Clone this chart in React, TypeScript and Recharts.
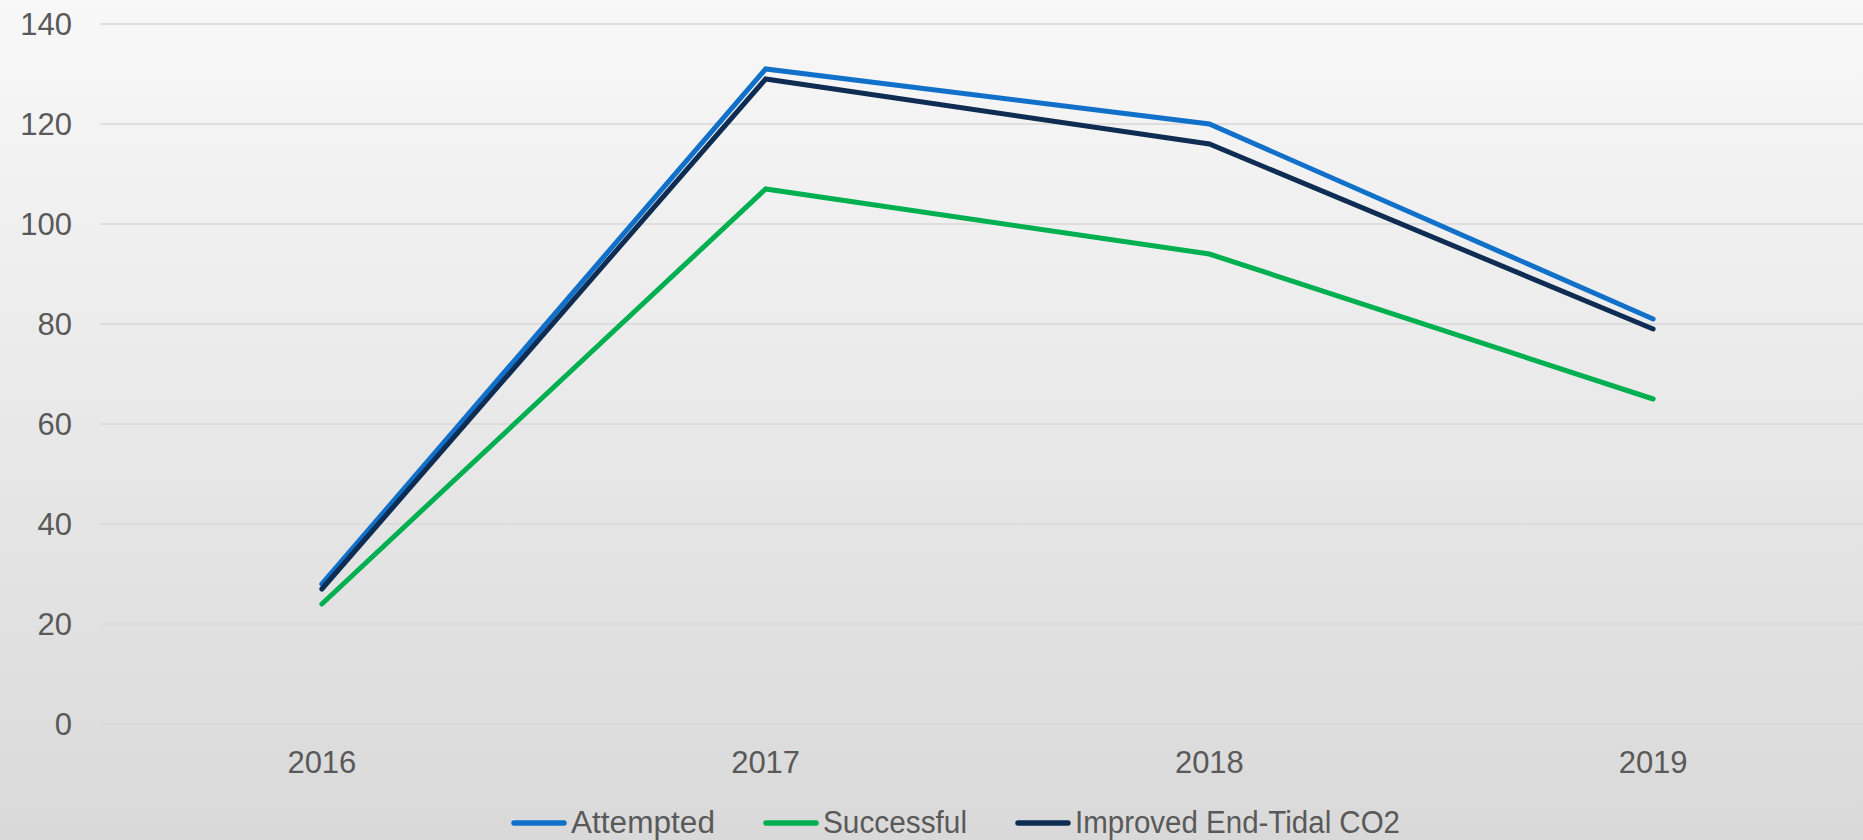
import React from 'react';
import { LineChart, Line, XAxis, YAxis, CartesianGrid, Legend } from 'recharts';

const years = ['2016', '2017', '2018', '2019'];
const attempted = [28, 131, 120, 81];
const successful = [24, 107, 94, 65];
const improved = [27, 129, 116, 79];
const yTicks = [0, 20, 40, 60, 80, 100, 120, 140];

const seriesKeys = ['attempted', 'successful', 'improved'];
const seriesNames = ['Attempted', 'Successful', 'Improved End-Tidal CO2'];
const seriesColors = ['#1170C9', '#00B050', '#0F2D52'];
const legendTextWidths = [144, 144, 325];

const data = years.map((y, i) => ({
  year: y,
  attempted: attempted[i],
  successful: successful[i],
  improved: improved[i],
}));

const FONT = '"Liberation Sans", Arial, sans-serif';
const TEXT = '#595959';

const renderLegend = () => (
  <div style={{ display: 'flex', paddingLeft: 511, height: 44, alignItems: 'flex-start' }}>
    {seriesNames.map((name, i) => (
      <svg key={name} width={60 + legendTextWidths[i] + 4} height={44} style={{ marginRight: 44, display: 'block', overflow: 'visible' }}>
        <line x1={3} x2={53} y1={27} y2={27} stroke={seriesColors[i]} strokeWidth={5.5} strokeLinecap="round" />
        <text
          x={60}
          y={36.5}
          fontSize={31}
          fontFamily={FONT}
          fill={TEXT}
          textLength={legendTextWidths[i]}
          lengthAdjust="spacingAndGlyphs"
        >
          {name}
        </text>
      </svg>
    ))}
  </div>
);

export default function App() {
  return (
    <div
      style={{
        position: 'absolute',
        left: 0,
        top: 0,
        width: 1863,
        height: 840,
        overflow: 'hidden',
        background: 'linear-gradient(to bottom, #f8f8f8 0%, #d9d9d9 100%)',
      }}
    >
      <LineChart width={1875} height={840} data={data} margin={{ top: 24, right: 0, left: 0, bottom: 0 }}>
        <CartesianGrid vertical={false} stroke="#d9d9d9" strokeWidth={1.5} />
        <XAxis
          dataKey="year"
          scale="band"
          axisLine={false}
          tickLine={false}
          tickSize={0}
          tickMargin={27}
          height={72}
          tick={{ fontSize: 31, fill: TEXT, fontFamily: FONT }}
        />
        <YAxis
          domain={[0, 140]}
          ticks={yTicks}
          axisLine={false}
          tickLine={false}
          tickSize={0}
          tickMargin={28}
          width={100}
          tick={{ fontSize: 31, fill: TEXT, fontFamily: FONT }}
        />
        <Legend
          verticalAlign="bottom"
          content={renderLegend}
          wrapperStyle={{ left: 0, bottom: 0, width: 1875, height: 44 }}
        />
        {seriesKeys.map((k, i) => (
          <Line
            key={k}
            type="linear"
            dataKey={k}
            name={seriesNames[i]}
            stroke={seriesColors[i]}
            strokeWidth={5}
            strokeLinecap="round"
            strokeLinejoin="miter"
            dot={false}
            activeDot={false}
            isAnimationActive={false}
          />
        ))}
      </LineChart>
    </div>
  );
}
